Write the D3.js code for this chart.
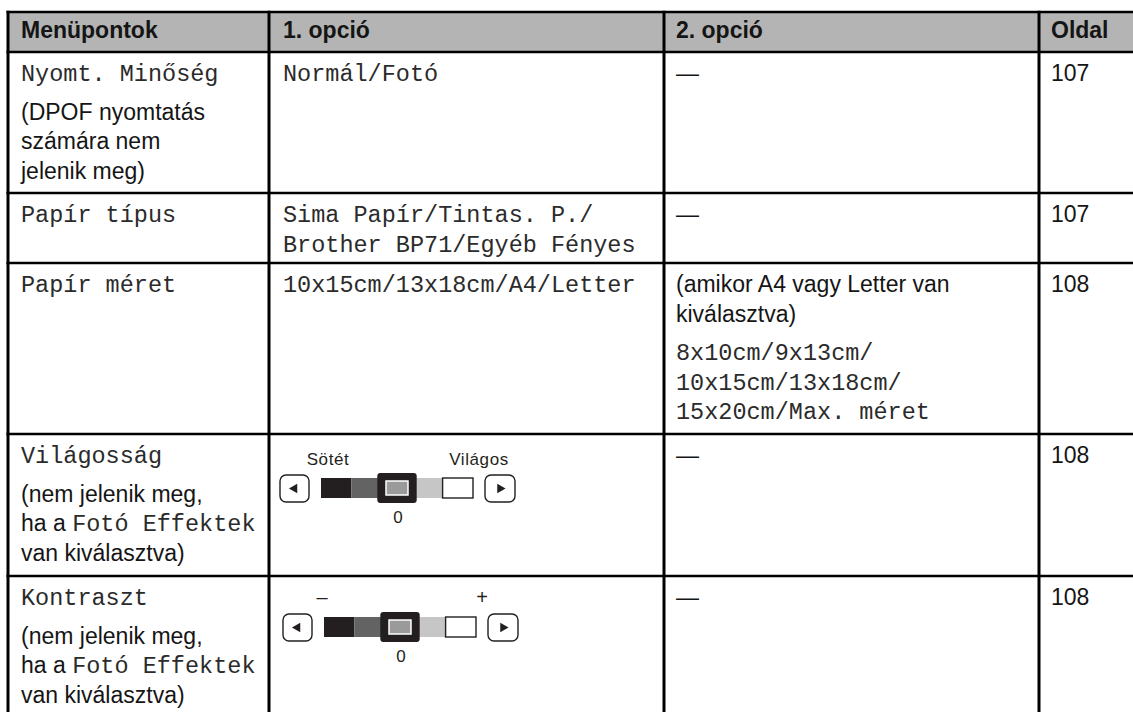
<!DOCTYPE html>
<html><head><meta charset="utf-8">
<script src="https://cdn.jsdelivr.net/npm/d3@7"></script>
<style>html,body{margin:0;padding:0;background:#fff;} svg{display:block}</style>
</head><body><svg id="chart" width="1133" height="712"></svg>
<script>
// ---- data ----
const columns = ["Menüpontok", "1. opció", "2. opció", "Oldal"];
const menuItems = ["Nyomt. Minőség", "Papír típus", "Papír méret", "Világosság", "Kontraszt"];
const menuNotes = [
  ["(DPOF nyomtatás", "számára nem", "jelenik meg)"],
  [],
  [],
  ["(nem jelenik meg,", "ha a {Fotó Effektek}", "van kiválasztva)"],
  ["(nem jelenik meg,", "ha a {Fotó Effektek}", "van kiválasztva)"]
];
const option1 = [
  ["Normál/Fotó"],
  ["Sima Papír/Tintas. P./", "Brother BP71/Egyéb Fényes"],
  ["10x15cm/13x18cm/A4/Letter"],
  null,
  null
];
const option1Slider = [null, null, null, 0, 1];
const sliderLabels = [["Sötét", "Világos"], ["–", "+"]];
const sliderLevels = ["#231f20", "#636363", "#9a9a9a", "#c6c6c6", "#ffffff"];
const sliderSelected = 2;
const sliderValue = "0";
const option2Notes = [[], [], ["(amikor A4 vagy Letter van", "kiválasztva)"], [], []];
const option2Values = [["—"], ["—"], ["8x10cm/9x13cm/", "10x15cm/13x18cm/", "15x20cm/Max. méret"], ["—"], ["—"]];
const pages = ["107", "107", "108", "108", "108"];

// ---- layout ----
const W = 1133, H = 712;
const colEdges = [8, 269, 664, 1039, 1145];
const rowEdges = [12, 52, 193, 263, 434, 576, 720];
const padX = [13, 14, 12, 12];
const SANS = "'Liberation Sans', Arial, sans-serif";
const MONO = "'Liberation Mono', 'Courier New', monospace";
const ink = "#151515";
const monoInk = "#2b2b2b";

const svg = d3.select("#chart");
const x = d3.scaleOrdinal().domain(d3.range(colEdges.length)).range(colEdges);
const y = d3.scaleOrdinal().domain(d3.range(rowEdges.length)).range(rowEdges);

// header background
svg.append("rect")
  .attr("x", x(0)).attr("y", y(0))
  .attr("width", x(4) - x(0)).attr("height", y(1) - y(0))
  .attr("fill", "#b4b4b4");

// header text
svg.append("g").selectAll("text").data(columns).join("text")
  .attr("x", (d, i) => x(i) + padX[i])
  .attr("y", y(0) + 26)
  .attr("font-family", SANS).attr("font-weight", "bold")
  .attr("font-size", 23).attr("fill", ink)
  .text(d => d);

// build cells
const cells = [];
menuItems.forEach((item, r) => {
  const c0 = [{ font: "mono", lines: [item] }];
  if (menuNotes[r].length) c0.push({ font: "sans", lines: menuNotes[r] });
  cells.push({ r, c: 0, paras: c0 });
  if (option1[r]) cells.push({ r, c: 1, paras: [{ font: "mono", lines: option1[r] }] });
  const c2 = [];
  if (option2Notes[r].length) c2.push({ font: "sans", lines: option2Notes[r] });
  c2.push({ font: option2Values[r][0] === "—" ? "sans" : "mono", lines: option2Values[r] });
  cells.push({ r, c: 2, paras: c2 });
  cells.push({ r, c: 3, paras: [{ font: "sans", lines: [pages[r]] }] });
});

const lineStep = 29.5, paraStep = 38.5;
const textG = svg.append("g");
cells.forEach(cell => {
  let yy = y(cell.r + 1) + 29;
  cell.paras.forEach((p, pi) => {
    p.lines.forEach((line, li) => {
      if (pi > 0 || li > 0) yy += (li === 0 ? paraStep : lineStep);
      const t = textG.append("text")
        .attr("x", x(cell.c) + padX[cell.c])
        .attr("y", yy)
        .attr("xml:space", "preserve");
      const parts = line.split(/(\{[^}]*\})/).filter(s => s.length);
      parts.forEach(s => {
        const mono = s.startsWith("{") ? true : p.font === "mono";
        t.append("tspan")
          .attr("font-family", mono ? MONO : SANS)
          .attr("font-size", mono ? 23.5 : 23)
          .attr("fill", mono ? monoInk : ink)
          .text(s.replace(/[{}]/g, ""));
      });
    });
  });
});

// sliders
const sliderPos = { 3: { dx: 280, dy: 44 }, 4: { dx: 283, dy: 41 } };
option1Slider.forEach((si, r) => {
  if (si === null) return;
  const x0 = sliderPos[r].dx, y0 = y(r + 1) + sliderPos[r].dy;
  const g = svg.append("g");
  const band = d3.scaleBand().domain(d3.range(sliderLevels.length)).range([x0 + 41, x0 + 193]);
  const bh = 20;
  const buttons = [{ bx: x0, w: 29, rot: -90 }, { bx: x0 + 205, w: 30, rot: 90 }];
  buttons.forEach(b => {
    g.append("rect").attr("x", b.bx).attr("y", y0 - 3).attr("width", b.w).attr("height", 27)
      .attr("rx", 6).attr("fill", "#fff").attr("stroke", "#231f20").attr("stroke-width", 1.4);
    g.append("path").attr("d", d3.symbol(d3.symbolTriangle, 40)())
      .attr("transform", `translate(${b.bx + b.w / 2},${y0 + 10.5}) rotate(${b.rot})`)
      .attr("fill", "#231f20");
  });
  g.selectAll("rect.seg").data(sliderLevels).join("rect").attr("class", "seg")
    .attr("x", (d, i) => band(i)).attr("y", y0)
    .attr("width", band.bandwidth()).attr("height", bh)
    .attr("fill", d => d)
    .attr("stroke", (d, i) => i === sliderLevels.length - 1 ? "#231f20" : "none")
    .attr("stroke-width", 1.4);
  const sx = band(sliderSelected), bw = band.bandwidth();
  g.append("rect").attr("x", sx - 4.5).attr("y", y0 - 5).attr("width", bw + 9).attr("height", bh + 10)
    .attr("rx", 3).attr("fill", "#231f20");
  g.append("rect").attr("x", sx + bw / 2 - 11).attr("y", y0 + 3).attr("width", 22).attr("height", 14)
    .attr("fill", sliderLevels[sliderSelected]).attr("stroke", "#fff").attr("stroke-width", 1.5);
  const labs = sliderLabels[si];
  const lblFont = si === 0 ? 17 : 20;
  g.append("text").attr("x", si === 0 ? x0 + 48 : x0 + 39).attr("y", y0 - 13)
    .attr("text-anchor", "middle").attr("font-family", SANS).attr("font-size", lblFont)
    .attr("letter-spacing", si === 0 ? 0.6 : 0)
    .attr("fill", "#231f20").text(labs[0]);
  g.append("text").attr("x", x0 + 199).attr("y", y0 - 13)
    .attr("text-anchor", "middle").attr("font-family", SANS).attr("font-size", lblFont)
    .attr("letter-spacing", si === 0 ? 0.6 : 0)
    .attr("fill", "#231f20").text(labs[1]);
  g.append("text").attr("x", sx + bw / 2 + 1).attr("y", y0 + 45)
    .attr("text-anchor", "middle").attr("font-family", SANS).attr("font-size", 17)
    .attr("fill", "#231f20").text(sliderValue);
});

// grid lines
const gl = svg.append("g").attr("stroke", "#000");
rowEdges.forEach(ry => {
  gl.append("line").attr("x1", x(0) - 1.5).attr("x2", W + 10).attr("y1", ry).attr("y2", ry)
    .attr("stroke-width", 2.6);
});
colEdges.forEach(cx => {
  gl.append("line").attr("x1", cx).attr("x2", cx).attr("y1", y(0) - 1.3).attr("y2", H + 10)
    .attr("stroke-width", 3);
});
</script></body></html>
